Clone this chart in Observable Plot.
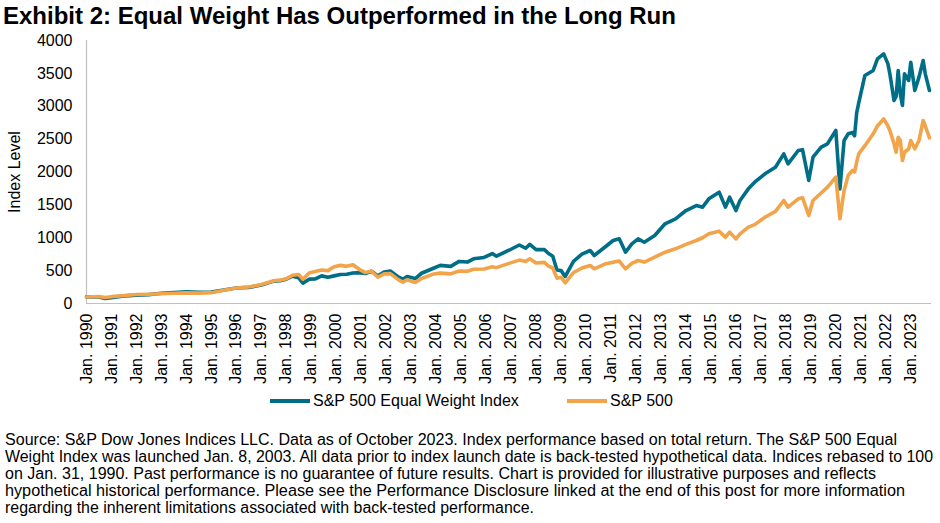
<!DOCTYPE html>
<html>
<head>
<meta charset="utf-8">
<script src="https://cdn.jsdelivr.net/npm/d3@7"></script>
<script src="https://cdn.jsdelivr.net/npm/@observablehq/plot@0.6"></script>
<style>
  html, body { margin: 0; padding: 0; background: #fff; }
  #wrap { position: relative; width: 940px; height: 523px; font-family: "Liberation Sans", Arial, sans-serif; color: #000; overflow: hidden; }
  #title { position: absolute; left: 3px; top: 2px; font-size: 24px; font-weight: bold; white-space: nowrap; }
  #chart { position: absolute; left: 0; top: 0; }
  #legend { position: absolute; top: 391px; left: 0; width: 940px; height: 20px; font-size: 16px; }
  .sw { position: absolute; top: 8px; height: 4px; }
  .lt { position: absolute; top: 0; white-space: nowrap; line-height: 20px; }
  #foot { position: absolute; left: 5px; top: 431px; font-size: 16px; line-height: 17px; width: 2000px; }
  #foot div { white-space: nowrap; transform-origin: 0 0; display: block; width: max-content; }
</style>
</head>
<body>
<div id="wrap">
  <div id="chart"></div>
  <div id="title">Exhibit 2: Equal Weight Has Outperformed in the Long Run</div>
  <div id="legend"></div>
  <div id="foot"></div>
</div>
<script>
// ---- data ----
const dates = [
"1990-01","1990-07","1990-10","1991-01","1991-06","1992-01","1992-07","1993-01","1993-07","1994-01",
"1994-07","1995-01","1995-07","1996-01","1996-07","1997-01","1997-07","1997-10","1998-01","1998-04",
"1998-07","1998-09","1998-12","1999-03","1999-06","1999-09","1999-12","2000-03","2000-06","2000-09",
"2000-12","2001-03","2001-06","2001-09","2001-12","2002-03","2002-07","2002-09","2002-11","2003-03",
"2003-06","2003-12","2004-03","2004-08","2004-12","2005-04","2005-07","2005-12","2006-04","2006-06",
"2006-12","2007-05","2007-08","2007-10","2008-01","2008-05","2008-07","2008-09","2008-11","2009-01",
"2009-03","2009-07","2009-11","2010-03","2010-05","2010-10","2011-02","2011-05","2011-08","2011-11",
"2012-02","2012-05","2012-10","2013-03","2013-08","2014-01","2014-06","2014-09","2014-12","2015-05",
"2015-08","2015-10","2016-01","2016-03","2016-07","2016-10","2017-03","2017-08","2017-12","2018-02",
"2018-07","2018-09","2018-12","2019-02","2019-06","2019-09","2020-01","2020-03","2020-05","2020-07",
"2020-09","2020-10","2020-11","2020-12","2021-03","2021-07","2021-09","2021-12","2022-02","2022-03",
"2022-05","2022-06","2022-07","2022-08","2022-09","2022-10","2022-12","2023-01","2023-03","2023-05",
"2023-07","2023-08","2023-10"];

const equalWeight = [
100,98,75,88,112,128,135,155,165,178,
172,175,205,235,245,280,340,345,370,415,
390,310,370,375,420,400,420,440,445,465,
470,455,490,420,480,495,400,370,410,380,
460,540,580,565,640,630,680,700,760,720,
810,890,840,900,820,820,760,720,510,500,
410,640,750,806,730,856,958,984,780,908,
984,932,1034,1212,1288,1414,1490,1465,1592,1693,
1465,1617,1414,1567,1744,1845,1972,2073,2276,2124,
2327,2340,1871,2225,2378,2429,2631,1744,2479,2581,
2600,2550,2900,3050,3468,3544,3721,3797,3645,3493,
3087,3150,3544,3189,3011,3493,3392,3670,3240,3443,
3696,3493,3240];

const sp500 = [
100,106,92,104,118,136,140,148,155,162,
158,165,200,235,250,290,345,355,375,430,
440,370,465,485,510,500,560,580,565,590,
520,470,490,400,450,455,360,325,360,320,
380,450,462,450,495,490,520,525,560,545,
610,660,640,680,615,625,570,540,385,400,
315,470,540,578,528,600,629,645,528,610,
654,630,705,780,832,900,958,1000,1060,1100,
1008,1085,983,1060,1161,1200,1312,1400,1567,1465,
1592,1610,1338,1567,1680,1769,1921,1288,1719,1950,
2023,2000,2150,2276,2400,2581,2700,2809,2700,2631,
2429,2300,2529,2479,2175,2300,2350,2479,2353,2480,
2783,2700,2520];

const seriesNames = ["S&P 500 Equal Weight Index", "S&P 500"];
const seriesColors = ["#006E87", "#F2A44A"];
const yTicks = [0,500,1000,1500,2000,2500,3000,3500,4000];
const tickYears = d3.range(1990, 2024);
const footLines = [
  "Source: S&P Dow Jones Indices LLC. Data as of October 2023. Index performance based on total return.  The S&P 500 Equal",
  "Weight Index was launched Jan. 8, 2003. All data prior to index launch date is back-tested hypothetical data. Indices rebased to 100",
  "on Jan. 31, 1990. Past performance is no guarantee of future results. Chart is provided for illustrative purposes and reflects",
  "hypothetical historical performance. Please see the Performance Disclosure linked at the end of this post for more information",
  "regarding the inherent limitations associated with back-tested performance."
];
const footWidths = [892, 928, 871, 900, 529];

// ---- build table ----
const parse = d3.utcParse("%Y-%m");
const rows = [];
dates.forEach((d, i) => rows.push({date: parse(d), value: equalWeight[i], series: seriesNames[0]}));
dates.forEach((d, i) => rows.push({date: parse(d), value: sp500[i], series: seriesNames[1]}));
const xStart = new Date(Date.UTC(1990, 0, 1));
const xEnd = new Date(Date.UTC(2023, 9, 31));

const chart = Plot.plot({
  width: 940,
  height: 395,
  marginTop: 40,
  marginBottom: 92,
  marginLeft: 86,
  marginRight: 9,
  style: {fontFamily: "'Liberation Sans', Arial, sans-serif", fontSize: "16px", color: "#000", background: "transparent"},
  x: {type: "utc", domain: [xStart, xEnd]},
  y: {domain: [0, 4000]},
  color: {domain: seriesNames, range: seriesColors},
  marks: [
    Plot.axisY({ticks: yTicks, tickSize: 0, tickPadding: 14, tickFormat: d => String(d),
      label: "Index Level", labelAnchor: "center", labelArrow: "none", labelOffset: 78}),
    Plot.axisX({ticks: tickYears.map(y => new Date(Date.UTC(y, 0, 1))), tickSize: 0, tickPadding: 10, tickRotate: -90,
      tickFormat: d => "Jan. " + d.getUTCFullYear(), label: null}),
    Plot.ruleX([xStart], {stroke: "#c0c0c0", strokeWidth: 1.2}),
    Plot.ruleY([0], {stroke: "#c0c0c0", strokeWidth: 1.2}),
    Plot.line(rows, {x: "date", y: "value", z: "series", stroke: "series", strokeWidth: 3.6, strokeLinejoin: "round"})
  ]
});
document.getElementById("chart").appendChild(chart);

// legend
const legend = document.getElementById("legend");
const legendPos = [{sw: 270, tx: 313}, {sw: 567, tx: 610}];
seriesNames.forEach((name, i) => {
  const sw = document.createElement("div");
  sw.className = "sw";
  sw.style.left = legendPos[i].sw + "px";
  sw.style.width = "40px";
  sw.style.background = seriesColors[i];
  legend.appendChild(sw);
  const t = document.createElement("div");
  t.className = "lt";
  t.style.left = legendPos[i].tx + "px";
  t.textContent = name;
  legend.appendChild(t);
});

// footer: each line condensed to the reference line width
const foot = document.getElementById("foot");
footLines.forEach((l, i) => {
  const d = document.createElement("div");
  d.textContent = l;
  foot.appendChild(d);
  const w = d.getBoundingClientRect().width;
  d.style.transform = `scaleX(${footWidths[i] / w})`;
});
</script>
</body>
</html>
